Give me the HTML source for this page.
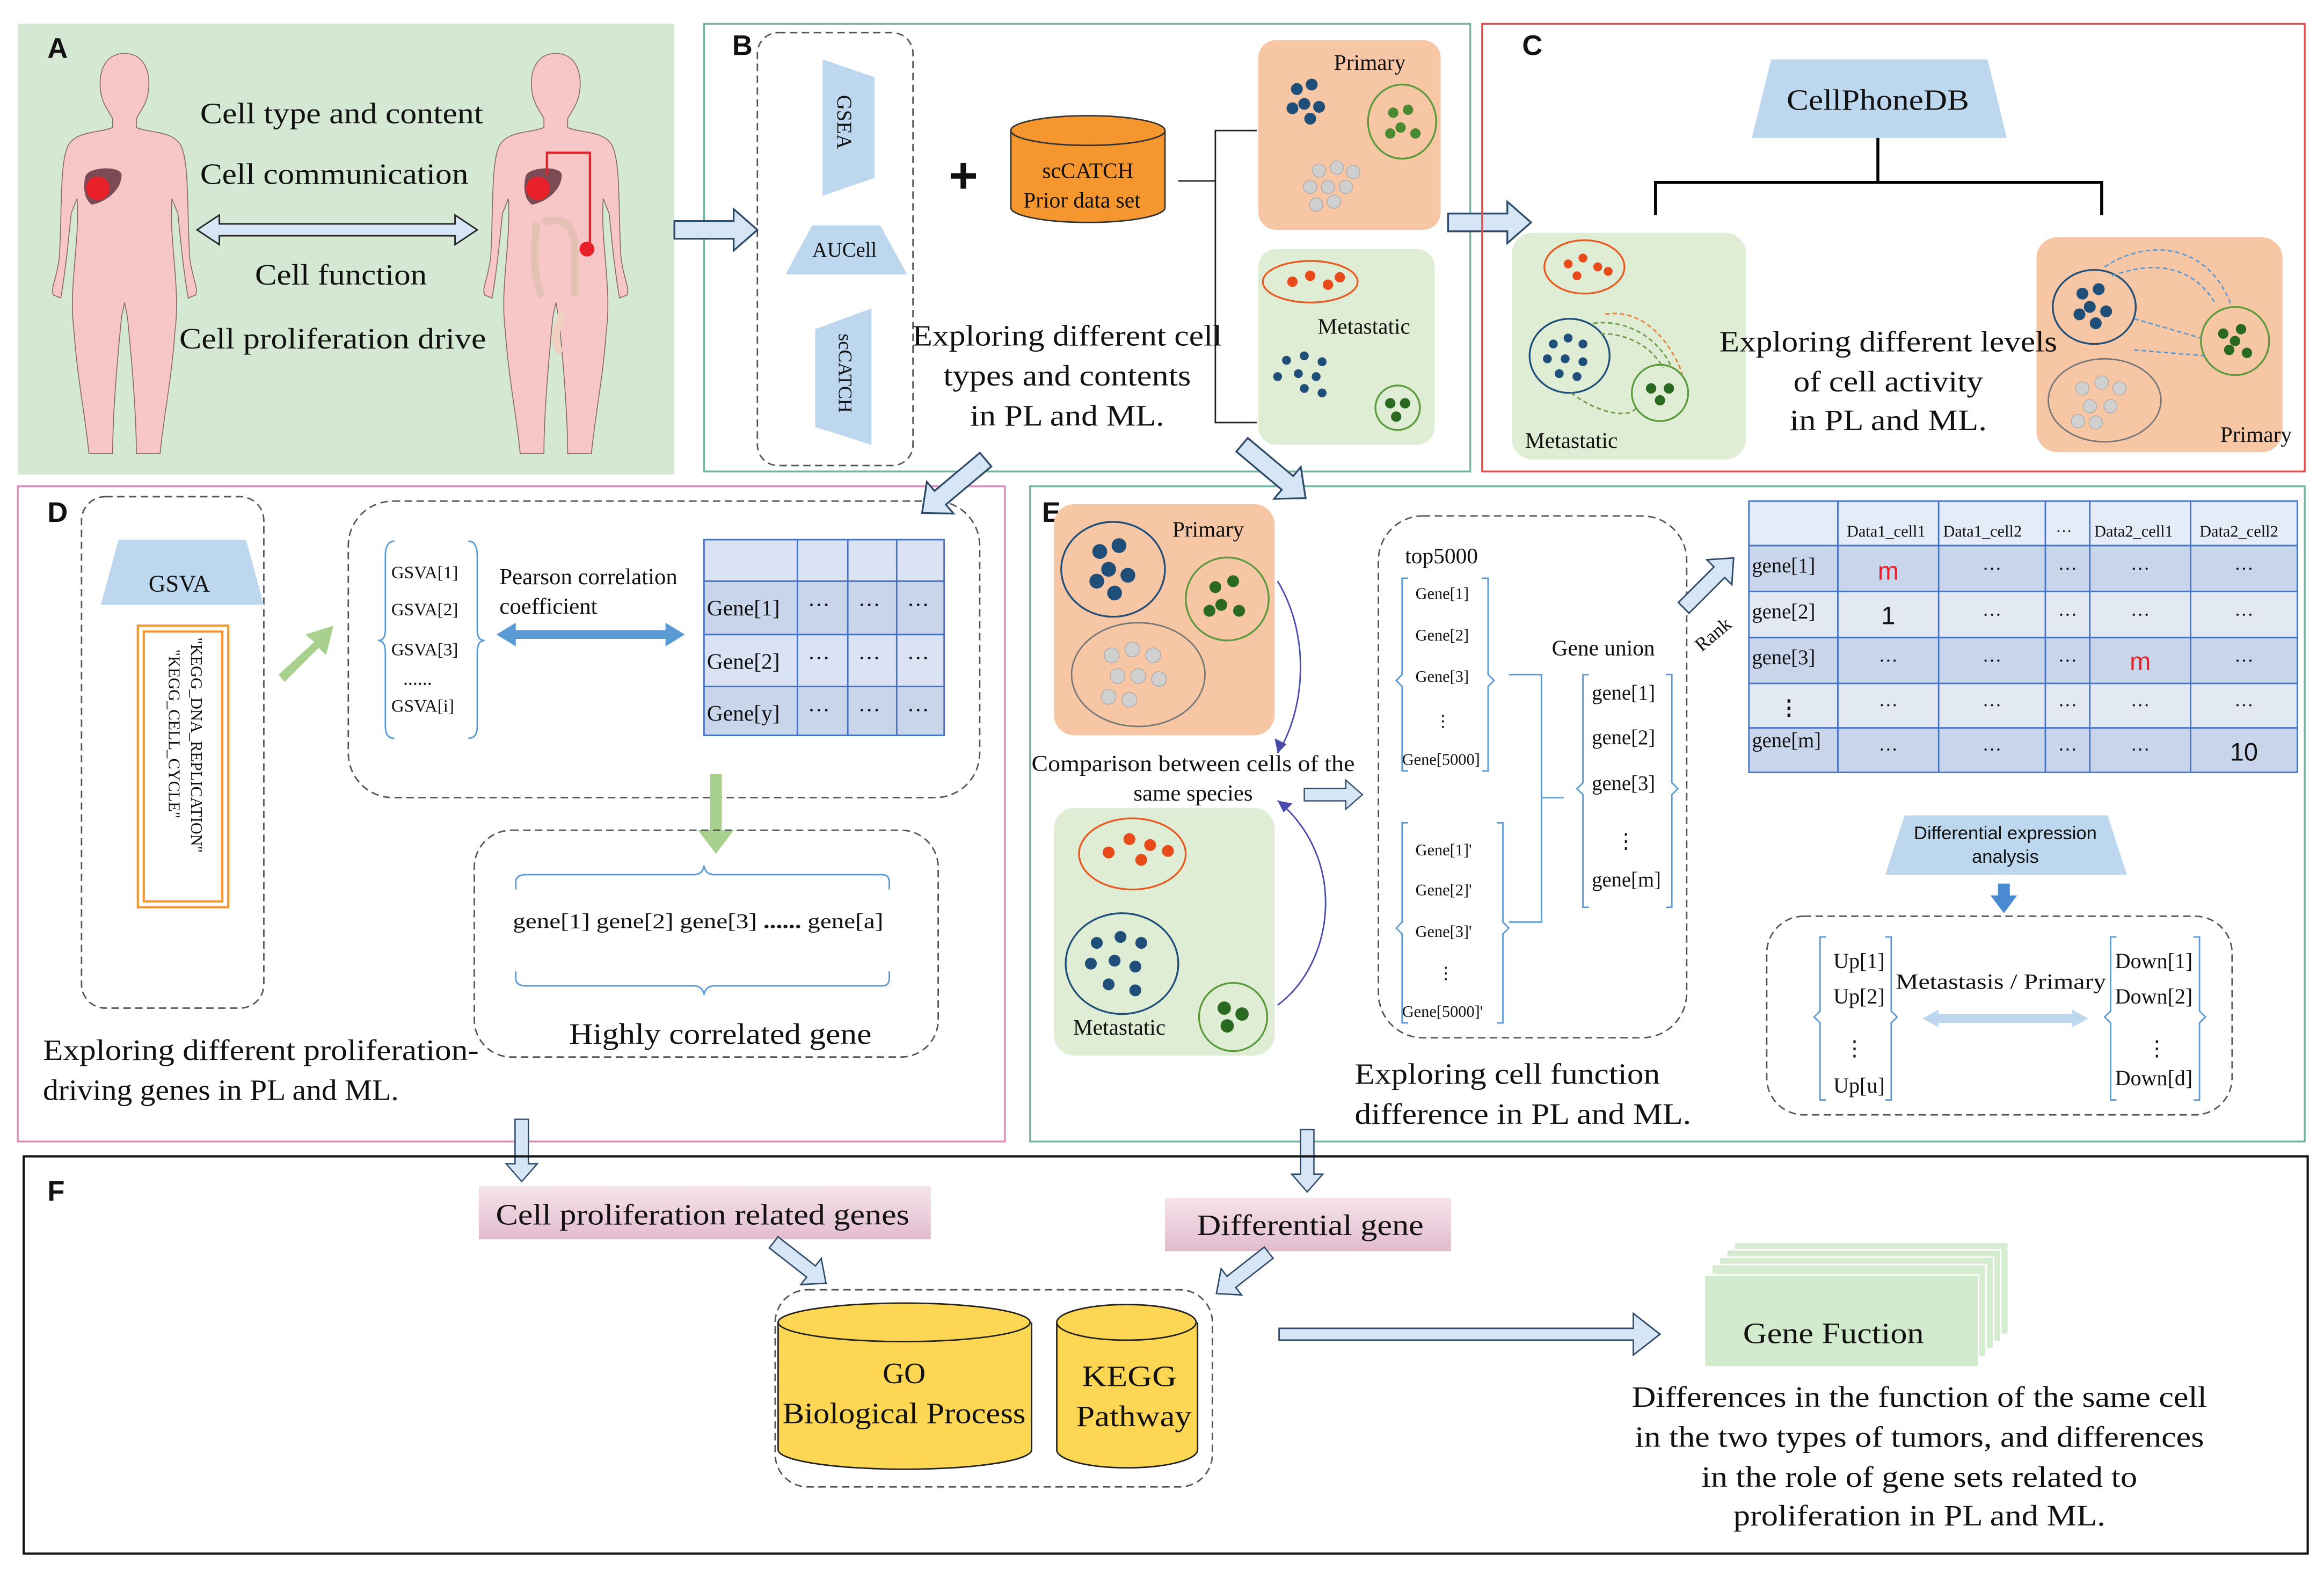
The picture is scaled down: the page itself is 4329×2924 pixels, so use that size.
<!DOCTYPE html>
<html><head><meta charset="utf-8"><style>
html,body{margin:0;padding:0;background:#fff}
svg{display:block}
text{font-family:"Liberation Serif",serif;fill:#111}
.s{font-family:"Liberation Sans",sans-serif}
</style></head><body>
<svg width="4329" height="2924" viewBox="0 0 1568 1059" xmlns="http://www.w3.org/2000/svg">
<defs>
<g id="barr"><polygon points="0,-6 40,-6 40,-14 56,0 40,14 40,6 0,6" fill="#d6e6f6" stroke="#2e4a6a" stroke-width="1.2"/></g>
<g id="body">
<path d="M0,22 C-14,22 -18,36 -16,48 C-15,56 -10,62 -8,66 L-8,72 C-18,76 -32,74 -38,84 C-44,96 -42,130 -44,160 C-46,175 -50,180 -48,185 L-43,187 C-40,170 -38,150 -36,130 L-32,120 C-30,150 -38,180 -34,210 C-32,240 -26,270 -24,292 L-8,292 C-8,270 -6,240 -2,200 L0,190 L2,200 C6,240 8,270 8,292 L24,292 C26,270 32,240 34,210 C38,180 30,150 32,120 L36,130 C38,150 40,170 43,187 L48,185 C50,180 46,175 44,160 C42,130 44,96 38,84 C32,74 18,76 8,72 L8,66 C10,62 15,56 16,48 C18,36 14,22 0,22 Z" fill="#f7c6c6" stroke="#8a6a6a" stroke-width="0.6"/>
</g>
</defs>

<!-- Panel A -->
<rect x="12" y="16" width="443" height="304" fill="#d4e8d4"/>
<text x="32" y="39" class="s" font-size="19" font-weight="bold">A</text>
<use href="#body" transform="translate(84,14)"/>
<use href="#body" transform="translate(375,14)"/>
<path d="M58,118 C62,112 82,112 82,118 C82,128 72,136 62,138 C56,134 56,124 58,118Z" fill="#7b4a55"/>
<circle cx="66" cy="127" r="8" fill="#e8202a"/>
<path d="M355,118 C359,112 379,112 379,118 C379,128 369,136 359,138 C353,134 353,124 355,118Z" fill="#7b4a55"/>
<circle cx="363" cy="127" r="8" fill="#e8202a"/>
<path d="M362,150 C360,170 360,190 366,200 M366,150 C380,146 388,150 388,170 L388,200" stroke="#e5c0b5" stroke-width="5" fill="none"/>
<path d="M380,210 C376,220 372,228 378,238" stroke="#f0d0c0" stroke-width="5" fill="none"/>
<polyline points="369,118 369,103 398,103 398,168" fill="none" stroke="#e8202a" stroke-width="1.5"/>
<circle cx="396" cy="168" r="5" fill="#e8202a"/>
<text x="135" y="83" font-size="20" textLength="191" lengthAdjust="spacingAndGlyphs">Cell type and content</text>
<text x="135" y="124" font-size="20" textLength="181" lengthAdjust="spacingAndGlyphs">Cell communication</text>
<text x="172" y="192" font-size="20" textLength="116" lengthAdjust="spacingAndGlyphs">Cell function</text>
<text x="121" y="235" font-size="20" textLength="207" lengthAdjust="spacingAndGlyphs">Cell proliferation drive</text>
<polygon points="133,155 148,145 148,151 307,151 307,145 322,155 307,165 307,159 148,159 148,165" fill="#d6e6f6" stroke="#222" stroke-width="1"/>

<!-- Panel B -->
<rect x="475" y="16" width="517" height="302" fill="none" stroke="#6fb5a0" stroke-width="1.2"/>
<text x="494" y="37" class="s" font-size="19" font-weight="bold">B</text>
<rect x="511" y="22" width="105" height="292" rx="14" fill="none" stroke="#555" stroke-width="1" stroke-dasharray="5,3"/>
<polygon points="555,40 590,52 590,120 555,132" fill="#bdd7ee"/>
<text transform="translate(565,64) rotate(90)" font-size="14">GSEA</text>
<polygon points="548,152 594,152 612,185 530,185" fill="#bdd7ee"/>
<text x="548" y="173" font-size="14">AUCell</text>
<polygon points="550,222 588,208 588,300 550,288" fill="#bdd7ee"/>
<text transform="translate(566,225) rotate(90)" font-size="13">scCATCH</text>
<text x="640" y="130" class="s" font-size="34" font-weight="bold">+</text>
<path d="M682,88 L682,140 A52,10 0 0 0 786,140 L786,88" fill="#f5962f" stroke="#333" stroke-width="1"/>
<ellipse cx="734" cy="88" rx="52" ry="10" fill="#f5962f" stroke="#333" stroke-width="1"/>
<text x="734" y="120" font-size="15" text-anchor="middle">scCATCH</text>
<text x="730" y="140" font-size="15" text-anchor="middle">Prior data set</text>
<polyline points="795,122 820,122" stroke="#222" fill="none"/>
<polyline points="848,88 820,88 820,285 848,285" stroke="#222" fill="none"/>
<rect x="849" y="27" width="123" height="128" rx="12" fill="#f7c6a5"/>
<text x="900" y="47" font-size="15">Primary</text>
<ellipse cx="946" cy="82" rx="23" ry="25" fill="none" stroke="#5a9a3a" stroke-width="1.2"/>
<g fill="#4a8a30"><circle cx="940" cy="76" r="3.5"/><circle cx="950" cy="74" r="3.5"/><circle cx="945" cy="86" r="3.5"/><circle cx="955" cy="90" r="3.5"/><circle cx="938" cy="90" r="3.5"/></g>
<g fill="#1f4e79"><circle cx="875" cy="60" r="4"/><circle cx="885" cy="57" r="4"/><circle cx="880" cy="70" r="4"/><circle cx="890" cy="72" r="4"/><circle cx="872" cy="73" r="4"/><circle cx="884" cy="80" r="4"/></g>
<g fill="#cfcfcf" stroke="#aaa" stroke-width=".5"><circle cx="890" cy="115" r="4.5"/><circle cx="902" cy="113" r="4.5"/><circle cx="913" cy="116" r="4.5"/><circle cx="884" cy="126" r="4.5"/><circle cx="896" cy="126" r="4.5"/><circle cx="908" cy="126" r="4.5"/><circle cx="888" cy="138" r="4.5"/><circle cx="900" cy="136" r="4.5"/></g>
<rect x="849" y="168" width="119" height="132" rx="12" fill="#dfedd5"/>
<ellipse cx="884" cy="190" rx="32" ry="14" fill="none" stroke="#e85a20" stroke-width="1.2"/>
<g fill="#e84a1a"><circle cx="872" cy="190" r="3.5"/><circle cx="884" cy="186" r="3.5"/><circle cx="896" cy="192" r="3.5"/><circle cx="904" cy="187" r="3.5"/></g>
<text x="889" y="225" font-size="15">Metastatic</text>
<g fill="#1f4e79"><circle cx="868" cy="243" r="3"/><circle cx="880" cy="240" r="3"/><circle cx="892" cy="244" r="3"/><circle cx="862" cy="254" r="3"/><circle cx="876" cy="252" r="3"/><circle cx="888" cy="254" r="3"/><circle cx="880" cy="262" r="3"/><circle cx="892" cy="265" r="3"/></g>
<circle cx="943" cy="275" r="15" fill="none" stroke="#5a9a3a" stroke-width="1.2"/>
<g fill="#2a6a20"><circle cx="938" cy="272" r="3.5"/><circle cx="948" cy="272" r="3.5"/><circle cx="942" cy="281" r="3.5"/></g>
<text x="720" y="233" font-size="20" text-anchor="middle" textLength="209" lengthAdjust="spacingAndGlyphs">Exploring different cell</text>
<text x="720" y="260" font-size="20" text-anchor="middle" textLength="167" lengthAdjust="spacingAndGlyphs">types and contents</text>
<text x="720" y="287" font-size="20" text-anchor="middle" textLength="131" lengthAdjust="spacingAndGlyphs">in PL and ML.</text>
<use href="#barr" transform="translate(455,155)"/>
<use href="#barr" transform="translate(977,150)"/>

<!-- Panel C -->
<rect x="1000" y="16" width="555" height="302" fill="none" stroke="#e84a4a" stroke-width="1.2"/>
<text x="1027" y="37" class="s" font-size="19" font-weight="bold">C</text>
<polygon points="1195,40 1341,40 1354,93 1182,93" fill="#bdd7ee"/>
<text x="1267" y="74" font-size="20" text-anchor="middle" textLength="123" lengthAdjust="spacingAndGlyphs">CellPhoneDB</text>
<polyline points="1267,93 1267,123" stroke="#000" stroke-width="2" fill="none"/>
<polyline points="1117,145 1117,123 1418,123 1418,145" stroke="#000" stroke-width="2" fill="none"/>
<rect x="1020" y="157" width="158" height="153" rx="14" fill="#dfedd5"/>
<ellipse cx="1069" cy="180" rx="27" ry="18" fill="none" stroke="#e85a20" stroke-width="1.2"/>
<g fill="#e84a1a"><circle cx="1058" cy="178" r="3"/><circle cx="1068" cy="174" r="3"/><circle cx="1078" cy="180" r="3"/><circle cx="1064" cy="186" r="3"/><circle cx="1085" cy="183" r="3"/></g>
<ellipse cx="1059" cy="240" rx="27" ry="25" fill="none" stroke="#1f4e79" stroke-width="1.2"/>
<g fill="#1f4e79"><circle cx="1048" cy="232" r="3"/><circle cx="1058" cy="228" r="3"/><circle cx="1068" cy="232" r="3"/><circle cx="1044" cy="242" r="3"/><circle cx="1056" cy="242" r="3"/><circle cx="1068" cy="244" r="3"/><circle cx="1052" cy="252" r="3"/><circle cx="1064" cy="254" r="3"/></g>
<circle cx="1120" cy="265" r="19" fill="none" stroke="#5a9a3a" stroke-width="1.2"/>
<g fill="#2a6a20"><circle cx="1114" cy="262" r="3.5"/><circle cx="1126" cy="262" r="3.5"/><circle cx="1120" cy="270" r="3.5"/></g>
<path d="M1075,218 C1100,215 1120,230 1128,248 M1080,225 C1100,225 1115,235 1122,248 M1060,265 C1080,280 1100,282 1104,275" stroke="#6a9a4a" stroke-dasharray="3,2" fill="none"/>
<path d="M1083,212 C1105,208 1125,225 1135,252" stroke="#e8803a" stroke-dasharray="3,2" fill="none"/>
<text x="1029" y="302" font-size="15">Metastatic</text>
<rect x="1374" y="160" width="166" height="145" rx="14" fill="#f7c6a5"/>
<ellipse cx="1413" cy="207" rx="28" ry="25" fill="none" stroke="#1f4e79" stroke-width="1.2"/>
<g fill="#1f4e79"><circle cx="1405" cy="198" r="4"/><circle cx="1416" cy="195" r="4"/><circle cx="1410" cy="207" r="4"/><circle cx="1421" cy="210" r="4"/><circle cx="1403" cy="212" r="4"/><circle cx="1414" cy="218" r="4"/></g>
<circle cx="1508" cy="230" r="23" fill="none" stroke="#5a9a3a" stroke-width="1.2"/>
<g fill="#2a6a20"><circle cx="1500" cy="225" r="3.5"/><circle cx="1512" cy="222" r="3.5"/><circle cx="1504" cy="236" r="3.5"/><circle cx="1516" cy="238" r="3.5"/><circle cx="1508" cy="230" r="3.5"/></g>
<ellipse cx="1420" cy="270" rx="38" ry="28" fill="none" stroke="#777" stroke-width="1"/>
<g fill="#d0d0d0" stroke="#aaa" stroke-width=".5"><circle cx="1405" cy="262" r="4.5"/><circle cx="1418" cy="258" r="4.5"/><circle cx="1430" cy="262" r="4.5"/><circle cx="1410" cy="274" r="4.5"/><circle cx="1424" cy="274" r="4.5"/><circle cx="1414" cy="285" r="4.5"/><circle cx="1402" cy="284" r="4.5"/></g>
<path d="M1420,180 C1450,160 1490,165 1505,205 M1425,186 C1455,175 1480,180 1495,205 M1440,215 L1485,228 M1440,236 L1488,240" stroke="#5b9bd5" stroke-dasharray="3,2" fill="none"/>
<text x="1498" y="298" font-size="15">Primary</text>
<text x="1274" y="237" font-size="20" text-anchor="middle" textLength="228" lengthAdjust="spacingAndGlyphs">Exploring different levels</text>
<text x="1274" y="264" font-size="20" text-anchor="middle" textLength="128" lengthAdjust="spacingAndGlyphs">of cell activity</text>
<text x="1274" y="290" font-size="20" text-anchor="middle" textLength="133" lengthAdjust="spacingAndGlyphs">in PL and ML.</text>

<!-- Panel D -->
<rect x="12" y="328" width="666" height="442" fill="none" stroke="#d58fb5" stroke-width="1.2"/>
<text x="32" y="352" class="s" font-size="19" font-weight="bold">D</text>
<rect x="55" y="335" width="123" height="345" rx="16" fill="none" stroke="#555" stroke-dasharray="5,3"/>
<polygon points="80,364 166,364 178,408 68,408" fill="#bdd7ee"/>
<text x="121" y="399" font-size="16" text-anchor="middle">GSVA</text>
<rect x="93" y="422" width="61" height="190" fill="none" stroke="#f5962f" stroke-width="1.5"/>
<rect x="97" y="426" width="53" height="182" fill="none" stroke="#f5962f" stroke-width="1.5"/>
<text transform="translate(129,430) rotate(90)" font-size="11">"KEGG_DNA_REPLICATION"</text>
<text transform="translate(114,438) rotate(90)" font-size="11">"KEGG_CELL_CYCLE"</text>
<polygon points="188,455 212,433 206,428 225,422 220,442 215,437 192,460" fill="#a9d18e"/>
<rect x="235" y="338" width="426" height="200" rx="30" fill="none" stroke="#555" stroke-dasharray="5,3"/>
<path d="M266,365 Q260,365 260,375 L260,425 Q260,432 255,432 Q260,432 260,440 L260,490 Q260,498 266,498" stroke="#5b9bd5" fill="none"/>
<path d="M316,365 Q322,365 322,375 L322,425 Q322,432 327,432 Q322,432 322,440 L322,490 Q322,498 316,498" stroke="#5b9bd5" fill="none"/>
<text x="264" y="390" font-size="12">GSVA[1]</text>
<text x="264" y="415" font-size="12">GSVA[2]</text>
<text x="264" y="442" font-size="12">GSVA[3]</text>
<text x="272" y="462" font-size="13">......</text>
<text x="264" y="480" font-size="12">GSVA[i]</text>
<text x="337" y="394" font-size="15.5">Pearson correlation</text>
<text x="337" y="414" font-size="15.5">coefficient</text>
<polygon points="335,428 348,420 348,425 449,425 449,420 462,428 449,436 449,431 348,431 348,436" fill="#5b9bd5"/>
<g stroke="#4472c4" stroke-width="1">
<rect x="475" y="364" width="162" height="132" fill="#dae3f3"/>
<rect x="475" y="392" width="162" height="36" fill="#c9d5ea"/>
<rect x="475" y="463" width="162" height="33" fill="#c9d5ea"/>
<line x1="538" y1="364" x2="538" y2="496"/><line x1="572" y1="364" x2="572" y2="496"/><line x1="605" y1="364" x2="605" y2="496"/>
<line x1="475" y1="392" x2="637" y2="392"/><line x1="475" y1="428" x2="637" y2="428"/><line x1="475" y1="463" x2="637" y2="463"/>
</g>
<g font-size="15"><text x="477" y="415">Gene[1]</text><text x="477" y="451">Gene[2]</text><text x="477" y="486">Gene[y]</text>
<text x="545" y="413">···</text><text x="579" y="413">···</text><text x="612" y="413">···</text>
<text x="545" y="449">···</text><text x="579" y="449">···</text><text x="612" y="449">···</text>
<text x="545" y="484">···</text><text x="579" y="484">···</text><text x="612" y="484">···</text></g>
<polygon points="479,522 487,522 487,560 495,560 483,576 471,560 479,560" fill="#a9d18e"/>
<rect x="320" y="560" width="313" height="153" rx="25" fill="none" stroke="#555" stroke-dasharray="5,3"/>
<path d="M348,600 L348,595 Q348,590 355,590 L468,590 Q474,590 475,584 Q476,590 482,590 L595,590 Q600,590 600,595 L600,600" stroke="#5b9bd5" fill="none"/>
<path d="M348,655 L348,660 Q348,665 355,665 L468,665 Q474,665 475,671 Q476,665 482,665 L595,665 Q600,665 600,660 L600,655" stroke="#5b9bd5" fill="none"/>
<text x="346" y="626" font-size="14" textLength="250" lengthAdjust="spacingAndGlyphs">gene[1]  gene[2]  gene[3]  <tspan font-weight="bold">......</tspan>  gene[a]</text>
<text x="486" y="704" font-size="20" text-anchor="middle" textLength="204" lengthAdjust="spacingAndGlyphs">Highly correlated gene</text>
<text x="29" y="715" font-size="20" textLength="294" lengthAdjust="spacingAndGlyphs">Exploring different proliferation-</text>
<text x="29" y="742" font-size="20" textLength="240" lengthAdjust="spacingAndGlyphs">driving genes in PL and ML.</text>
<use href="#barr" transform="translate(665,310) rotate(140)"/>

<!-- Panel E -->
<rect x="695" y="328" width="860" height="442" fill="none" stroke="#6fb5a0" stroke-width="1.2"/>
<text x="703" y="352" class="s" font-size="19" font-weight="bold">E</text>
<use href="#barr" transform="translate(838,300) rotate(40)"/>
<rect x="711" y="340" width="149" height="156" rx="14" fill="#f7c6a5"/>
<text x="791" y="362" font-size="15">Primary</text>
<ellipse cx="751" cy="384" rx="35" ry="32" fill="none" stroke="#1f4e79" stroke-width="1.2"/>
<g fill="#1f4e79"><circle cx="742" cy="372" r="5"/><circle cx="755" cy="368" r="5"/><circle cx="748" cy="384" r="5"/><circle cx="761" cy="388" r="5"/><circle cx="740" cy="392" r="5"/><circle cx="752" cy="400" r="5"/></g>
<circle cx="828" cy="404" r="28" fill="none" stroke="#5a9a3a" stroke-width="1.2"/>
<g fill="#2a6a20"><circle cx="820" cy="396" r="4"/><circle cx="832" cy="392" r="4"/><circle cx="824" cy="408" r="4"/><circle cx="836" cy="412" r="4"/><circle cx="816" cy="412" r="4"/></g>
<ellipse cx="768" cy="455" rx="45" ry="35" fill="none" stroke="#777"/>
<g fill="#d0d0d0" stroke="#aaa" stroke-width=".5"><circle cx="750" cy="442" r="5"/><circle cx="764" cy="438" r="5"/><circle cx="778" cy="442" r="5"/><circle cx="754" cy="456" r="5"/><circle cx="768" cy="456" r="5"/><circle cx="782" cy="458" r="5"/><circle cx="748" cy="470" r="5"/><circle cx="762" cy="472" r="5"/></g>
<rect x="711" y="545" width="149" height="167" rx="14" fill="#dfedd5"/>
<ellipse cx="764" cy="576" rx="36" ry="24" fill="none" stroke="#e85a20" stroke-width="1.2"/>
<g fill="#e84a1a"><circle cx="748" cy="575" r="4"/><circle cx="762" cy="566" r="4"/><circle cx="776" cy="570" r="4"/><circle cx="788" cy="574" r="4"/><circle cx="770" cy="580" r="4"/></g>
<ellipse cx="757" cy="650" rx="38" ry="34" fill="none" stroke="#1f4e79" stroke-width="1.2"/>
<g fill="#1f4e79"><circle cx="740" cy="636" r="4"/><circle cx="756" cy="632" r="4"/><circle cx="770" cy="636" r="4"/><circle cx="736" cy="650" r="4"/><circle cx="752" cy="648" r="4"/><circle cx="766" cy="652" r="4"/><circle cx="748" cy="664" r="4"/><circle cx="766" cy="668" r="4"/></g>
<circle cx="832" cy="686" r="23" fill="none" stroke="#5a9a3a" stroke-width="1.2"/>
<g fill="#2a6a20"><circle cx="826" cy="680" r="4.5"/><circle cx="838" cy="684" r="4.5"/><circle cx="828" cy="692" r="4.5"/></g>
<text x="724" y="698" font-size="15">Metastatic</text>
<path d="M862,392 C885,430 880,480 862,508" stroke="#4a4aaa" fill="none"/>
<polygon points="862,508 860,498 868,502" fill="#4a4aaa"/>
<path d="M862,678 C900,650 910,580 862,540" stroke="#4a4aaa" fill="none"/>
<polygon points="862,540 872,542 866,548" fill="#4a4aaa"/>
<text x="805" y="520" font-size="15.5" text-anchor="middle" textLength="218" lengthAdjust="spacingAndGlyphs">Comparison between cells of the</text>
<text x="805" y="540" font-size="15.5" text-anchor="middle">same species</text>
<use href="#barr" transform="translate(880,536) scale(0.7)"/>
<rect x="930" y="348" width="208" height="352" rx="30" fill="none" stroke="#555" stroke-dasharray="5,3"/>
<text x="948" y="380" font-size="15">top5000</text>
<g stroke="#5b9bd5" fill="none">
<path d="M950,390 L946,390 L946,455 L942,459 L946,463 L946,520 L950,520"/>
<path d="M1000,390 L1004,390 L1004,455 L1008,459 L1004,463 L1004,520 L1000,520"/>
<path d="M950,555 L946,555 L946,622 L942,626 L946,630 L946,690 L950,690"/>
<path d="M1010,555 L1014,555 L1014,622 L1018,626 L1014,630 L1014,690 L1010,690"/>
<path d="M1018,455 L1040,455 L1040,622 L1018,622 M1040,538 L1055,538"/>
<path d="M1072,455 L1068,455 L1068,528 L1064,532 L1068,536 L1068,612 L1072,612"/>
<path d="M1124,455 L1128,455 L1128,528 L1132,532 L1128,536 L1128,612 L1124,612"/>
</g>
<g font-size="11"><text x="955" y="404">Gene[1]</text><text x="955" y="432">Gene[2]</text><text x="955" y="460">Gene[3]</text><text x="968" y="490">⋮</text><text x="946" y="516">Gene[5000]</text>
<text x="955" y="577">Gene[1]'</text><text x="955" y="604">Gene[2]'</text><text x="955" y="632">Gene[3]'</text><text x="970" y="660">⋮</text><text x="946" y="686">Gene[5000]'</text></g>
<text x="1047" y="442" font-size="15">Gene union</text>
<g font-size="14"><text x="1074" y="472">gene[1]</text><text x="1074" y="502">gene[2]</text><text x="1074" y="533">gene[3]</text><text x="1090" y="572">⋮</text><text x="1074" y="598">gene[m]</text></g>
<use href="#barr" transform="translate(1136,410) rotate(-45) scale(0.85)"/>
<text transform="translate(1148,440) rotate(-40)" font-size="13">Rank</text>
<g stroke="#4472c4">
<rect x="1180" y="338" width="370" height="30" fill="#e4ecf7"/>
<rect x="1180" y="368" width="370" height="31" fill="#c9d5ea"/>
<rect x="1180" y="399" width="370" height="31" fill="#e3e9f3"/>
<rect x="1180" y="430" width="370" height="31" fill="#c9d5ea"/>
<rect x="1180" y="461" width="370" height="30" fill="#e3e9f3"/>
<rect x="1180" y="491" width="370" height="30" fill="#c9d5ea"/>
<line x1="1240" y1="338" x2="1240" y2="521"/><line x1="1308" y1="338" x2="1308" y2="521"/><line x1="1380" y1="338" x2="1380" y2="521"/><line x1="1410" y1="338" x2="1410" y2="521"/><line x1="1478" y1="338" x2="1478" y2="521"/>
</g>
<g font-size="11"><text x="1246" y="362">Data1_cell1</text><text x="1311" y="362">Data1_cell2</text><text x="1387" y="362">···</text><text x="1413" y="362">Data2_cell1</text><text x="1484" y="362">Data2_cell2</text></g>
<g font-size="14"><text x="1182" y="386">gene[1]</text><text x="1182" y="417">gene[2]</text><text x="1182" y="448">gene[3]</text><text x="1200" y="482" font-weight="bold">⋮</text><text x="1182" y="504">gene[m]</text></g>
<g font-size="13" text-anchor="middle">
<text x="1274" y="391" class="s" font-size="17" style="fill:#e8202a">m</text><text x="1344" y="388">···</text><text x="1395" y="388">···</text><text x="1444" y="388">···</text><text x="1514" y="388">···</text>
<text x="1274" y="421" class="s" font-size="17">1</text><text x="1344" y="419">···</text><text x="1395" y="419">···</text><text x="1444" y="419">···</text><text x="1514" y="419">···</text>
<text x="1274" y="450">···</text><text x="1344" y="450">···</text><text x="1395" y="450">···</text><text x="1444" y="452" class="s" font-size="17" style="fill:#e8202a">m</text><text x="1514" y="450">···</text>
<text x="1274" y="480">···</text><text x="1344" y="480">···</text><text x="1395" y="480">···</text><text x="1444" y="480">···</text><text x="1514" y="480">···</text>
<text x="1274" y="510">···</text><text x="1344" y="510">···</text><text x="1395" y="510">···</text><text x="1444" y="510">···</text><text x="1514" y="513" class="s" font-size="17">10</text>
</g>
<polygon points="1285,550 1422,550 1435,590 1272,590" fill="#bdd7ee"/>
<text x="1353" y="566" class="s" font-size="12.5" text-anchor="middle">Differential expression</text>
<text x="1353" y="582" class="s" font-size="12.5" text-anchor="middle">analysis</text>
<polygon points="1348,596 1356,596 1356,604 1361,604 1352,616 1343,604 1348,604" fill="#4a8ad0"/>
<rect x="1192" y="618" width="314" height="134" rx="25" fill="none" stroke="#555" stroke-dasharray="5,3"/>
<g stroke="#5b9bd5" fill="none">
<path d="M1232,632 L1228,632 L1228,682 L1224,686 L1228,690 L1228,742 L1232,742"/>
<path d="M1272,632 L1276,632 L1276,682 L1280,686 L1276,690 L1276,742 L1272,742"/>
<path d="M1428,632 L1424,632 L1424,682 L1420,686 L1424,690 L1424,742 L1428,742"/>
<path d="M1480,632 L1484,632 L1484,682 L1488,686 L1484,690 L1484,742 L1480,742"/>
</g>
<g font-size="14.5"><text x="1237" y="653">Up[1]</text><text x="1237" y="677">Up[2]</text><text x="1244" y="712">⋮</text><text x="1237" y="737">Up[u]</text>
<text x="1427" y="653">Down[1]</text><text x="1427" y="677">Down[2]</text><text x="1448" y="712">⋮</text><text x="1427" y="732">Down[d]</text>
<text x="1279" y="667" textLength="142" lengthAdjust="spacingAndGlyphs">Metastasis / Primary</text></g>
<polygon points="1297,687 1308,681 1308,684 1398,684 1398,681 1409,687 1398,693 1398,690 1308,690 1308,693" fill="#bdd7ee"/>
<text x="914" y="731" font-size="20" textLength="206" lengthAdjust="spacingAndGlyphs">Exploring cell function</text>
<text x="914" y="758" font-size="20" textLength="227" lengthAdjust="spacingAndGlyphs">difference in PL and ML.</text>

<!-- arrows to F -->
<use href="#barr" transform="translate(352,755) rotate(90) scale(0.75)"/>
<use href="#barr" transform="translate(882,762) rotate(90) scale(0.75)"/>

<!-- Panel F -->
<rect x="16" y="780" width="1541" height="268" fill="none" stroke="#111" stroke-width="1.5"/>
<text x="32" y="810" class="s" font-size="19" font-weight="bold">F</text>
<defs><linearGradient id="pk" x1="0" y1="0" x2="0" y2="1"><stop offset="0" stop-color="#f6e4ec"/><stop offset="1" stop-color="#e2bccd"/></linearGradient></defs>
<rect x="323" y="800" width="305" height="36" fill="url(#pk)"/>
<text x="474" y="826" font-size="20" text-anchor="middle" textLength="279" lengthAdjust="spacingAndGlyphs">Cell proliferation related genes</text>
<rect x="786" y="808" width="193" height="36" fill="url(#pk)"/>
<text x="884" y="833" font-size="20" text-anchor="middle" textLength="153" lengthAdjust="spacingAndGlyphs">Differential gene</text>
<use href="#barr" transform="translate(522,838) rotate(38) scale(0.8)"/>
<use href="#barr" transform="translate(856,845) rotate(142) scale(0.8)"/>
<rect x="523" y="870" width="295" height="133" rx="22" fill="none" stroke="#555" stroke-dasharray="5,3"/>
<path d="M525,892 L525,978 A85,13 0 0 0 696,978 L696,892" fill="#fdd654" stroke="#222"/>
<ellipse cx="610" cy="892" rx="85" ry="13" fill="#fdd654" stroke="#222"/>
<path d="M713,892 L713,978 A47,12 0 0 0 808,978 L808,892" fill="#fdd654" stroke="#222"/>
<ellipse cx="760" cy="892" rx="47" ry="12" fill="#fdd654" stroke="#222"/>
<text x="610" y="933" font-size="20" text-anchor="middle">GO</text>
<text x="610" y="960" font-size="20" text-anchor="middle" textLength="164" lengthAdjust="spacingAndGlyphs">Biological Process</text>
<text x="762" y="935" font-size="20" text-anchor="middle" textLength="64" lengthAdjust="spacingAndGlyphs">KEGG</text>
<text x="765" y="962" font-size="20" text-anchor="middle" textLength="78" lengthAdjust="spacingAndGlyphs">Pathway</text>
<polygon points="863,896 1102,896 1102,886 1120,900 1102,914 1102,904 863,904" fill="#d6e6f6" stroke="#2e4a6a" stroke-width="1"/>
<g fill="#d5ecd0" stroke="#fff" stroke-width="1">
<rect x="1170" y="838" width="185" height="62"/>
<rect x="1165" y="843" width="185" height="62"/>
<rect x="1160" y="848" width="185" height="62"/>
<rect x="1155" y="853" width="185" height="62"/>
<rect x="1150" y="860" width="185" height="62" fill="#d2ebcc"/>
</g>
<text x="1237" y="906" font-size="20" text-anchor="middle" textLength="122" lengthAdjust="spacingAndGlyphs">Gene Fuction</text>
<g font-size="20" text-anchor="middle">
<text x="1295" y="949" textLength="388" lengthAdjust="spacingAndGlyphs">Differences in the function of the same cell</text>
<text x="1295" y="976" textLength="384" lengthAdjust="spacingAndGlyphs">in the two types of tumors, and differences</text>
<text x="1295" y="1003" textLength="294" lengthAdjust="spacingAndGlyphs">in the role of gene sets related to</text>
<text x="1295" y="1029" textLength="251" lengthAdjust="spacingAndGlyphs">proliferation in PL and ML.</text>
</g>
</svg>
</body></html>
